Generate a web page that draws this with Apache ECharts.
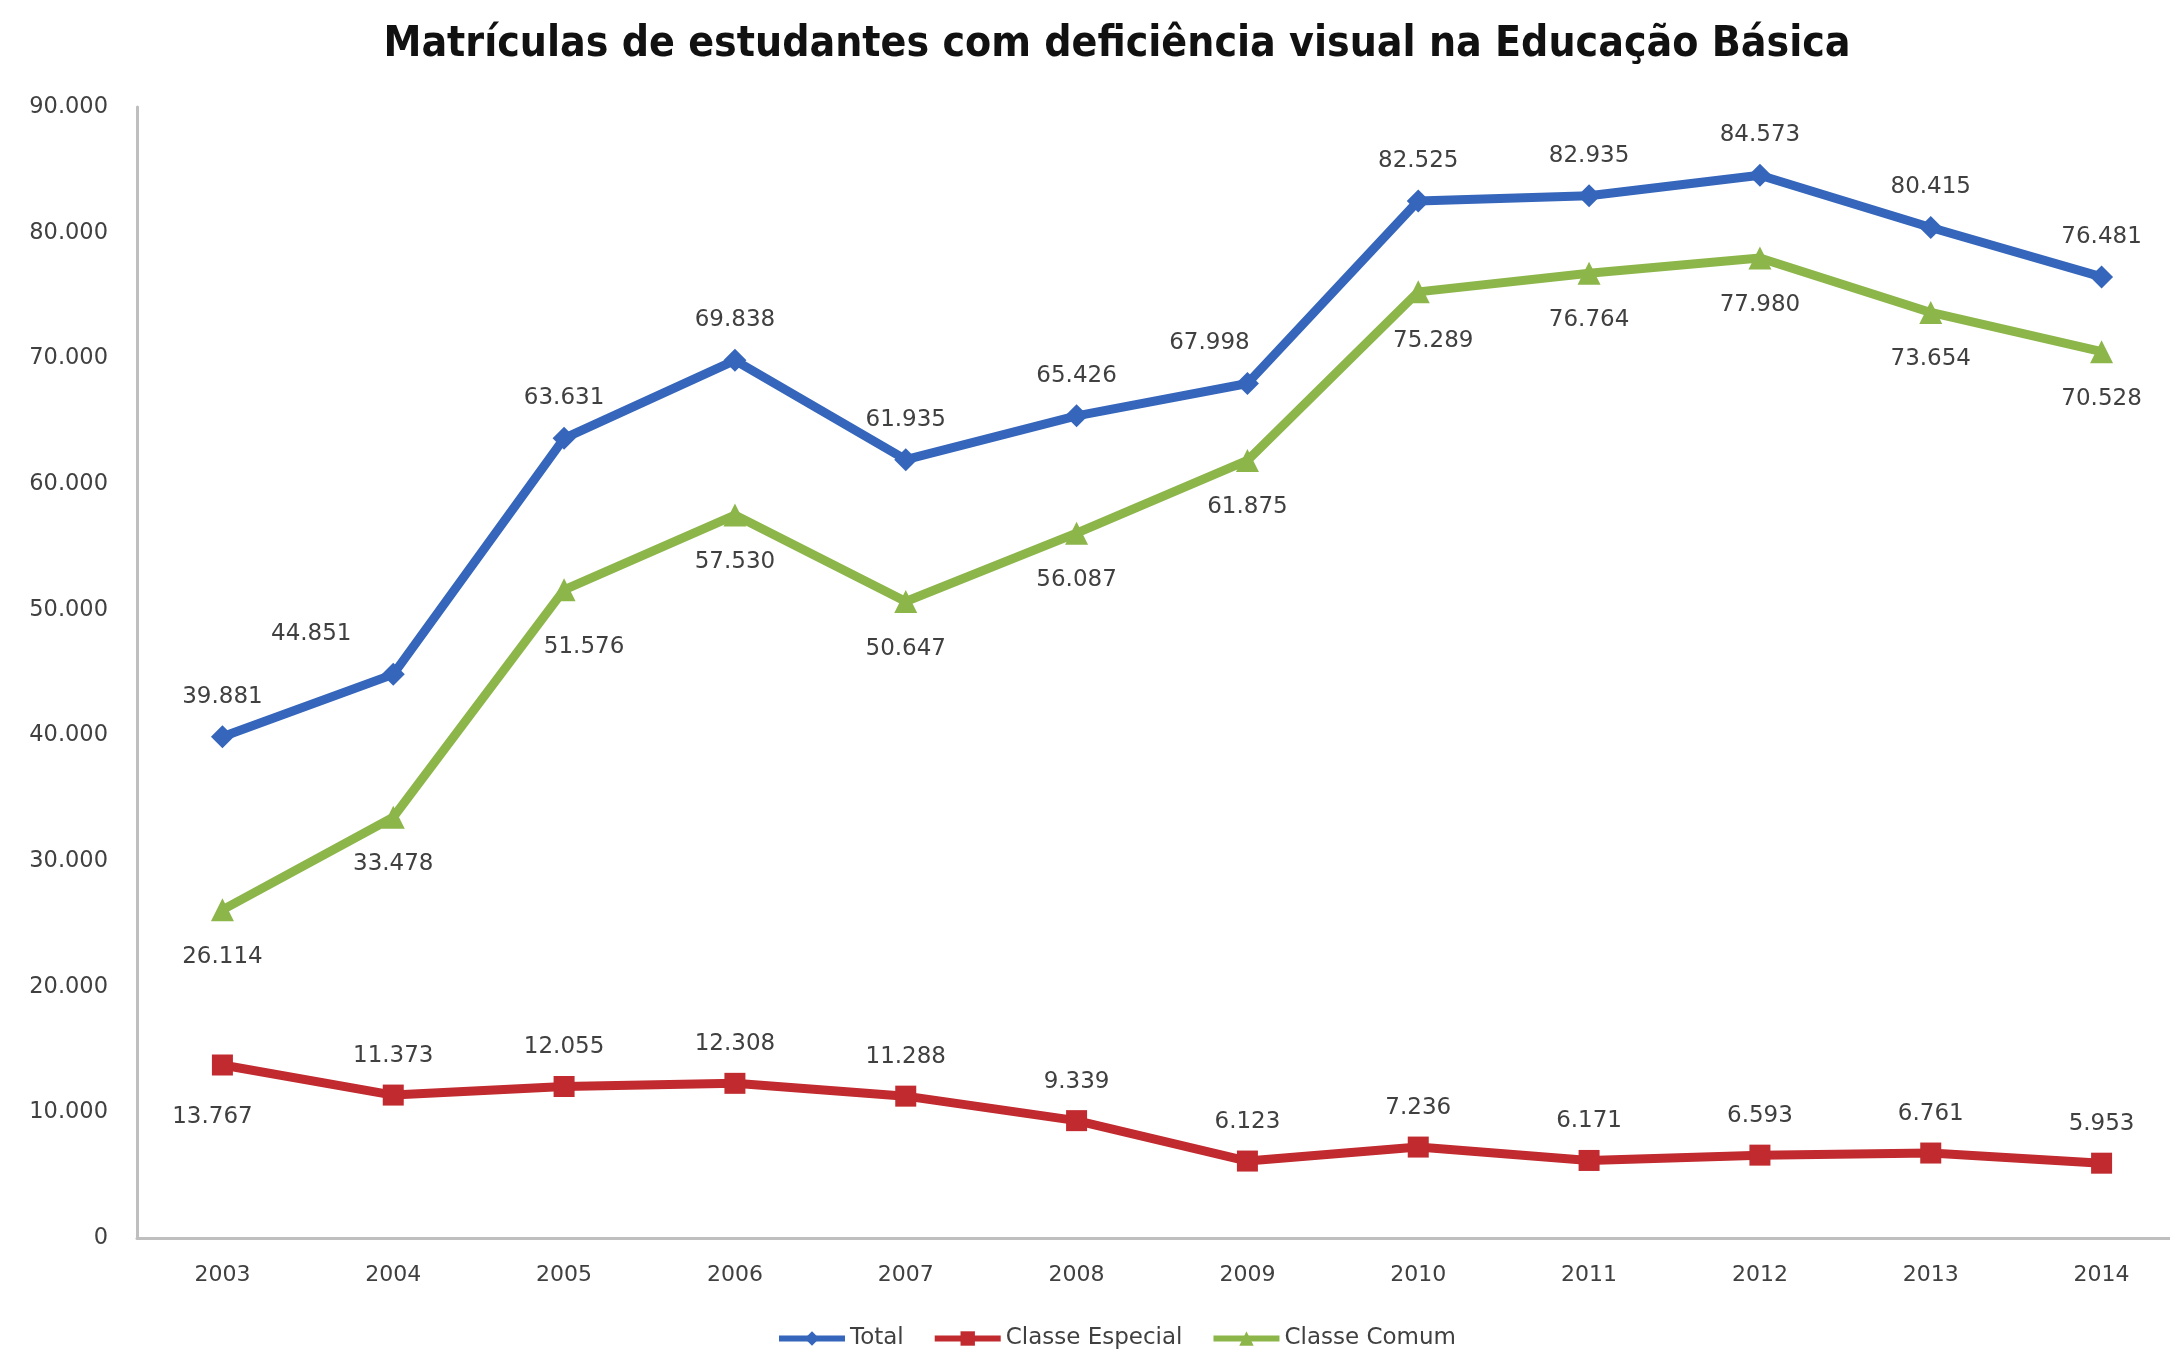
<!DOCTYPE html>
<html>
<head>
<meta charset="utf-8">
<script src="https://cdn.jsdelivr.net/npm/echarts@6/dist/echarts.min.js"></script>
<style>
html,body{margin:0;padding:0;background:#fff;}
#chart{width:2170px;height:1352px;}
</style>
</head>
<body>
<div id="chart"></div>
<script>
const title = 'Matrículas de estudantes com deficiência visual na Educação Básica';
const years = ['2003','2004','2005','2006','2007','2008','2009','2010','2011','2012','2013','2014'];
const total = [39881, 44851, 63631, 69838, 61935, 65426, 67998, 82525, 82935, 84573, 80415, 76481];
const classeEspecial = [13767, 11373, 12055, 12308, 11288, 9339, 6123, 7236, 6171, 6593, 6761, 5953];
const classeComum = [26114, 33478, 51576, 57530, 50647, 56087, 61875, 75289, 76764, 77980, 73654, 70528];
const seriesNames = ['Total', 'Classe Especial', 'Classe Comum'];
const yTicks = { min: 0, max: 90000, interval: 10000 };

// label placement tweaks (styling, separate from data)
const totalLabelShift = { 1: [-82, 0], 6: [-38, 0] };
const especialLabelBelow = { 0: [-10, 0] };
const comumLabelShift = { 2: [20, 10], 7: [15, 2] };

function fmt(v) {
  return String(Math.round(v)).replace(/\B(?=(\d{3})+(?!\d))/g, '.');
}

const labelFont = { fontFamily: 'DejaVu Sans', fontSize: 23, color: '#404040' };

function buildData(arr, overrides, belowOverride) {
  return arr.map((v, i) => {
    const d = { value: v };
    if (belowOverride && belowOverride[i]) {
      d.label = { position: 'bottom', offset: belowOverride[i], distance: 30 };
    } else if (overrides && overrides[i]) {
      d.label = { offset: overrides[i] };
    }
    return d;
  });
}

const chart = echarts.init(document.getElementById('chart'), null, { renderer: 'canvas' });
chart.setOption({
  backgroundColor: '#ffffff',
  animation: false,
  title: {
    text: title,
    left: 1112,
    textAlign: 'center',
    top: 19,
    textStyle: { fontFamily: 'Liberation Sans Narrow, DejaVu Sans Condensed, sans-serif', fontWeight: 'bold', fontSize: 42.4, color: '#111111' }
  },
  legend: {
    data: seriesNames,
    left: 771,
    top: 1322,
    itemWidth: 66,
    itemHeight: 18,
    itemGap: 28,
    lineStyle: { width: 6 },
    textStyle: { fontFamily: 'DejaVu Sans', fontSize: 23, color: '#404040' }
  },
  grid: { left: 137, top: 107, width: 2050, height: 1131, containLabel: false, outerBoundsMode: 'none' },
  xAxis: {
    type: 'category',
    data: years,
    boundaryGap: true,
    axisLine: { lineStyle: { color: '#BFBFBF', width: 3 } },
    axisTick: { show: false },
    axisLabel: { fontFamily: 'DejaVu Sans', fontSize: 22, color: '#404040', margin: 26 },
    splitLine: { show: false }
  },
  yAxis: {
    type: 'value',
    min: yTicks.min,
    max: yTicks.max,
    interval: yTicks.interval,
    axisLine: { show: true, lineStyle: { color: '#BFBFBF', width: 3 } },
    axisTick: { show: false },
    splitLine: { show: false },
    axisLabel: { fontFamily: 'DejaVu Sans', fontSize: 22.5, color: '#404040', margin: 29, formatter: v => fmt(v) }
  },
  series: [
    {
      name: seriesNames[0],
      type: 'line',
      data: buildData(total, totalLabelShift),
      symbol: 'diamond',
      symbolSize: 23,
      color: '#3566BB',
      lineStyle: { width: 9, color: '#3566BB' },
      itemStyle: { color: '#3566BB' },
      label: Object.assign({ show: true, position: 'top', distance: 17, formatter: p => fmt(p.value) }, labelFont),
      z: 3
    },
    {
      name: seriesNames[1],
      type: 'line',
      data: buildData(classeEspecial, null, especialLabelBelow),
      symbol: 'rect',
      symbolSize: 21,
      color: '#C12A2E',
      lineStyle: { width: 9, color: '#C12A2E' },
      itemStyle: { color: '#C12A2E' },
      label: Object.assign({ show: true, position: 'top', distance: 17, formatter: p => fmt(p.value) }, labelFont),
      z: 2
    },
    {
      name: seriesNames[2],
      type: 'line',
      data: buildData(classeComum, comumLabelShift),
      symbol: 'triangle',
      symbolSize: 23,
      color: '#8DB64A',
      lineStyle: { width: 9, color: '#8DB64A' },
      itemStyle: { color: '#8DB64A' },
      label: Object.assign({ show: true, position: 'bottom', distance: 24, formatter: p => fmt(p.value) }, labelFont),
      z: 2
    }
  ]
});
</script>
</body>
</html>
